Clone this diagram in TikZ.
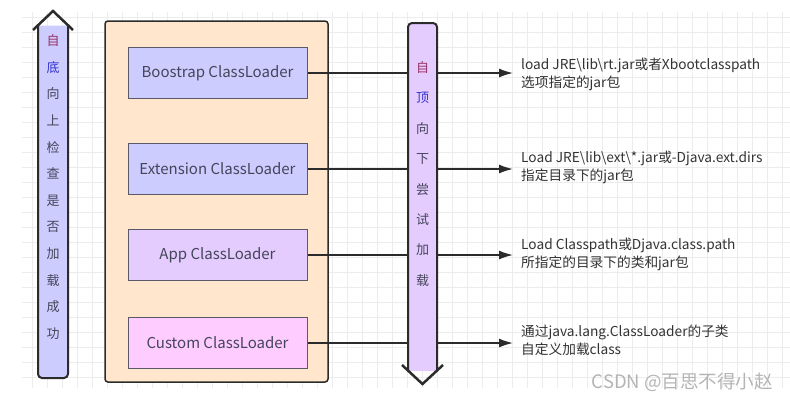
\documentclass[tikz,border=0pt]{standalone}
\usepackage{fontspec}
\setmainfont{Noto Sans CJK SC}
\usepackage{tikz}
\usetikzlibrary{arrows.meta,positioning,calc}
\definecolor{peach}{HTML}{FFE6CC}
\definecolor{lavender}{HTML}{CCCCFF}
\definecolor{lilac}{HTML}{E5CCFF}
\definecolor{pinkish}{HTML}{FFCCFF}
\definecolor{ink}{HTML}{2B2B2B}
\definecolor{boxline}{HTML}{5A5A66}
\definecolor{labelgray}{HTML}{45455A}
\definecolor{textgray}{HTML}{333333}
\definecolor{maroon}{HTML}{993366}
\definecolor{royal}{HTML}{3333CC}
\definecolor{gridgray}{HTML}{ECECEC}
\definecolor{markgray}{HTML}{B4B4B4}
\tikzset{
  container/.style={
    rectangle, draw=ink, fill=peach, line width=1.5pt, rounded corners=3pt,
    minimum width=223pt, minimum height=361pt, inner sep=0pt
  },
  loaderbox/.style={
    rectangle, draw=boxline, fill=#1, line width=1pt,
    minimum width=179pt, minimum height=51pt, inner sep=0pt,
    font=\fontsize{15}{17}\selectfont, text=labelgray
  },
  loaderbox/.default=lavender,
  desc/.style={
    anchor=west, inner sep=0pt, align=left,
    font=\fontsize{13.7}{18}\selectfont, text=textgray
  },
  callarrow/.style={
    -{Latex[length=14pt,width=9pt]}, line width=1.5pt, draw=ink, shorten >=8pt
  },
  flexbody/.style={draw=ink, line width=2pt, fill=#1},
  chevron/.style={draw=ink, line width=2.5pt, line join=miter},
  vtext/.style={align=center, inner sep=0pt, text=labelgray,
    font=\fontsize{13}{#1}\selectfont},
}

\begin{document}
\begin{tikzpicture}[x=1pt,y=-1pt]
\useasboundingbox (0,0) rectangle (790,400);
% canvas grid
\draw[gridgray, line width=0.7pt, step=15pt, xshift=2pt, yshift=-2pt] (20,10) grid (788,386);

% class loaders
\node[container] (jvm) at (216.5,201.5) {};
\node[loaderbox] (boot) at (217.5,73) {Boostrap ClassLoader};
\node[loaderbox, below=44pt of boot] (ext) {Extension ClassLoader};
\node[loaderbox=lilac, below=34pt of ext] (app) {App ClassLoader};
\node[loaderbox=pinkish, below=36pt of app] (custom) {Custom ClassLoader};

% what each one loads
\node[desc] (bootdesc) at (521,74) {load JRE\textbackslash lib\textbackslash rt.jar或者Xbootclasspath\\选项指定的jar包};
\node[desc] (extdesc) at (521,167) {Load JRE\textbackslash lib\textbackslash ext\textbackslash *.jar或-Djava.ext.dirs\\指定目录下的jar包};
\node[desc] (appdesc) at (521,254) {Load Classpath或Djava.class.path\\所指定的目录下的类和jar包};
\node[desc] (customdesc) at (521,340) {通过java.lang.ClassLoader的子类\\自定义加载class};
\draw[callarrow] (boot.east) -- (boot.east -| bootdesc.west);
\draw[callarrow] (ext.east) -- (ext.east -| extdesc.west);
\draw[callarrow] (app.east) -- (app.east -| appdesc.west);
\draw[callarrow] (custom.east) -- (custom.east -| customdesc.west);

% bottom-up check
\draw[flexbody=lavender] (38,25.5) [rounded corners=4pt] -- (38,378) -- (68,378) [sharp corners] -- (68,25.5);
\draw[chevron] (33,30) -- (53,11) -- (73,30);
\node[vtext=26.6] (uptext) at (53,187) {\textcolor{maroon}{自}\\\textcolor{royal}{底}\\向\\上\\检\\查\\是\\否\\加\\载\\成\\功};

% top-down load
\draw[flexbody=lilac] (408,371) [rounded corners=4pt] -- (408,23) -- (437,23) [sharp corners] -- (437,371);
\draw[chevron] (402,365) -- (422.5,384) -- (443,365);
\node[vtext=30.4] (downtext) at (422.5,174) {\textcolor{maroon}{自}\\\textcolor{royal}{顶}\\向\\下\\尝\\试\\加\\载};

\node[anchor=east, inner sep=0pt, text=markgray, font=\fontsize{18.5}{20}\selectfont] (mark) at (773,382) {CSDN @百思不得小赵};
\end{tikzpicture}
\end{document}
